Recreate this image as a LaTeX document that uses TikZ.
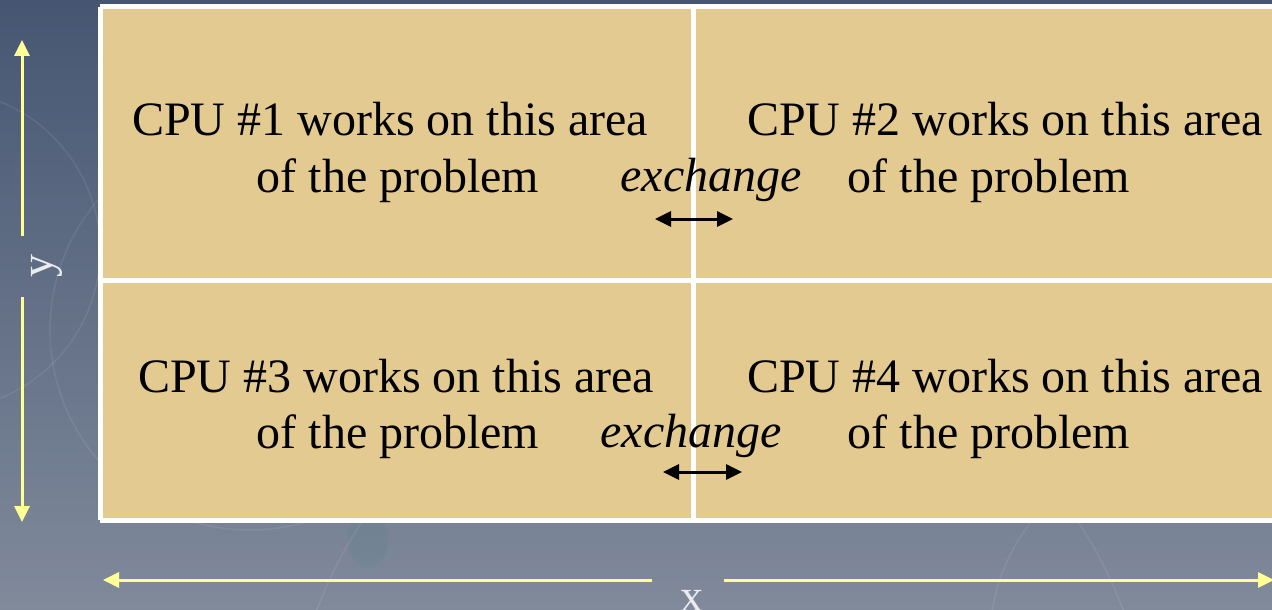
\documentclass[tikz,border=0pt]{standalone}
\usepackage{fontspec}
\setmainfont{Liberation Serif}
\usetikzlibrary{arrows.meta}
\definecolor{bgtop}{RGB}{70,86,114}
\definecolor{bgbot}{RGB}{128,138,155}
\definecolor{parch}{RGB}{227,202,145}
\definecolor{arrowyellow}{RGB}{255,255,150}
\definecolor{labelwhite}{RGB}{236,236,240}
\tikzset{
  bigtext/.style={font=\fontsize{48}{57}\selectfont, text=black, anchor=base, inner sep=0pt},
  exchtext/.style={bigtext, font=\fontsize{48}{57}\selectfont\itshape},
  axislabel/.style={font=\fontsize{46}{52}\selectfont, text=labelwhite, anchor=base, inner sep=0pt},
  axisarrow/.style={draw=arrowyellow, line width=3pt, -{Triangle[length=16pt,width=15pt]}},
  exarrow/.style={draw=black, line width=3pt, {Triangle[length=16pt,width=15pt]}-{Triangle[length=16pt,width=15pt]}},
  divider/.style={draw=white, line width=5pt},
  deco/.style={draw=white, opacity=0.08, line width=1.5pt}
}
\begin{document}
\begin{tikzpicture}[x=1pt,y=-1pt]
\useasboundingbox (0,0) rectangle (1272,610);
% background
\shade[top color=bgtop, bottom color=bgbot] (0,0) rectangle (1272,610);
\fill[teal!50!gray, opacity=0.12] (368,540) ellipse (20 and 28);
\draw[deco] (250,330) circle (200);
\draw[deco] (720,760) circle (430);
\draw[deco] (1180,640) circle (190);
\draw[deco] (-60,250) circle (160);
% panel
\fill[parch] (100,7) rectangle (1280,520);
\draw[divider] (100,7) -- (1280,7);
\draw[divider] (100,7) -- (100,520);
\draw[divider] (100,520) -- (1280,520);
\draw[divider] (100,280.5) -- (1280,280.5);
\draw[divider] (693,7) -- (693,520);
% texts
\node[bigtext] (c1a) at (390,135) {CPU \#1 works on this area};
\node[bigtext] (c1b) at (398,192) {of the problem};
\node[bigtext] (c2a) at (1005,135) {CPU \#2 works on this area};
\node[bigtext] (c2b) at (989,192) {of the problem};
\node[bigtext] (c3a) at (396,392) {CPU \#3 works on this area};
\node[bigtext] (c3b) at (398,448) {of the problem};
\node[bigtext] (c4a) at (1005,392) {CPU \#4 works on this area};
\node[bigtext] (c4b) at (989,448) {of the problem};
\node[exchtext] (ex1) at (711,191) {exchange};
\node[exchtext] (ex2) at (691,447) {exchange};
% exchange arrows
\coordinate (e1l) at (655,219);
\coordinate (e1r) at (733,219);
\coordinate (e2l) at (663,472);
\coordinate (e2r) at (742,472);
\draw[exarrow] (e1l) -- (e1r);
\draw[exarrow] (e2l) -- (e2r);
% axes
\node[axislabel, rotate=90] (ylab) at (52,266) {y};
\coordinate (ytop) at (22,40);
\coordinate (ybot) at (22,522);
\draw[axisarrow] (22,236) -- (ytop);
\draw[axisarrow] (22,297) -- (ybot);
\node[axislabel] (xlab) at (692,611) {x};
\coordinate (xl) at (103,580);
\coordinate (xr) at (1274,580);
\draw[axisarrow] (652,580) -- (xl);
\draw[axisarrow] (724,580) -- (xr);
\end{tikzpicture}
\end{document}
